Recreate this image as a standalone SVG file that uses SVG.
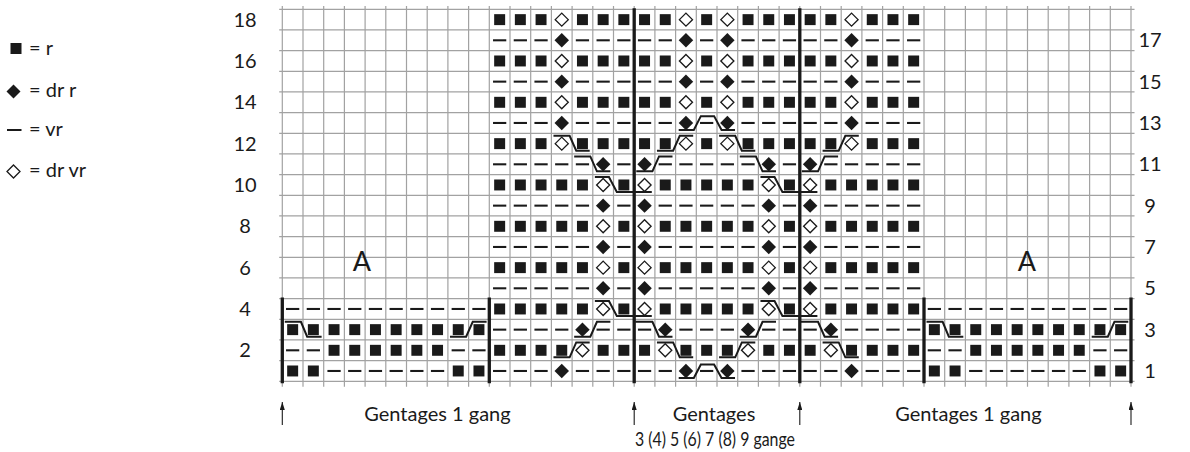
<svg xmlns="http://www.w3.org/2000/svg" width="1190" height="452" viewBox="0 0 1190 452">
<style>
text{font-family:Lato,"Open Sans","Liberation Sans",sans-serif;fill:#1a1a1a;font-size:20px}
.n{text-anchor:middle}
.grid{fill:none;stroke:#a2a2a2;stroke-width:1.2;vector-effect:non-scaling-stroke}
.thick{fill:none;stroke:#1a1a1a;stroke-width:3.3;vector-effect:non-scaling-stroke}
.cab{fill:none;stroke:#1a1a1a;stroke-width:2;vector-effect:non-scaling-stroke}
.arr{fill:none;stroke:#1a1a1a;stroke-width:1.1}
</style>
<defs>
<rect id="s" x=".235" y=".235" width=".53" height=".53" fill="#1a1a1a"/>
<rect id="d" x=".18" y=".45" width=".64" height=".1" fill="#1a1a1a"/>
<polygon id="f" points=".5,.15 .85,.5 .5,.85 .15,.5" fill="#1a1a1a"/>
<polygon id="o" points=".5,.185 .815,.5 .5,.815 .185,.5" fill="#fff" stroke="#1a1a1a" stroke-width=".065"/>
<marker id="ah" viewBox="0 0 8 5" refX="8" refY="2.5" markerWidth="8" markerHeight="5" markerUnits="userSpaceOnUse" orient="auto"><path d="M0 0L8 2.5L0 5z" fill="#1a1a1a"/></marker>
<g id="rA"><use href="#s" x="10"/><use href="#s" x="11"/><use href="#s" x="12"/><use href="#o" x="13"/><use href="#s" x="14"/><use href="#s" x="15"/><use href="#s" x="16"/><use href="#s" x="17"/><use href="#s" x="18"/><use href="#o" x="19"/><use href="#s" x="20"/><use href="#o" x="21"/><use href="#s" x="22"/><use href="#s" x="23"/><use href="#s" x="24"/><use href="#s" x="25"/><use href="#s" x="26"/><use href="#o" x="27"/><use href="#s" x="28"/><use href="#s" x="29"/><use href="#s" x="30"/></g>
<g id="rB"><use href="#d" x="10"/><use href="#d" x="11"/><use href="#d" x="12"/><use href="#f" x="13"/><use href="#d" x="14"/><use href="#d" x="15"/><use href="#d" x="16"/><use href="#d" x="17"/><use href="#d" x="18"/><use href="#f" x="19"/><use href="#d" x="20"/><use href="#f" x="21"/><use href="#d" x="22"/><use href="#d" x="23"/><use href="#d" x="24"/><use href="#d" x="25"/><use href="#d" x="26"/><use href="#f" x="27"/><use href="#d" x="28"/><use href="#d" x="29"/><use href="#d" x="30"/></g>
<g id="rD"><use href="#s" x="10"/><use href="#s" x="11"/><use href="#s" x="12"/><use href="#s" x="13"/><use href="#s" x="14"/><use href="#o" x="15"/><use href="#s" x="16"/><use href="#o" x="17"/><use href="#s" x="18"/><use href="#s" x="19"/><use href="#s" x="20"/><use href="#s" x="21"/><use href="#s" x="22"/><use href="#o" x="23"/><use href="#s" x="24"/><use href="#o" x="25"/><use href="#s" x="26"/><use href="#s" x="27"/><use href="#s" x="28"/><use href="#s" x="29"/><use href="#s" x="30"/></g>
<g id="rE"><use href="#d" x="10"/><use href="#d" x="11"/><use href="#d" x="12"/><use href="#d" x="13"/><use href="#d" x="14"/><use href="#f" x="15"/><use href="#d" x="16"/><use href="#f" x="17"/><use href="#d" x="18"/><use href="#d" x="19"/><use href="#d" x="20"/><use href="#d" x="21"/><use href="#d" x="22"/><use href="#f" x="23"/><use href="#d" x="24"/><use href="#f" x="25"/><use href="#d" x="26"/><use href="#d" x="27"/><use href="#d" x="28"/><use href="#d" x="29"/><use href="#d" x="30"/></g>
<g id="r3"><use href="#d" x="10"/><use href="#d" x="11"/><use href="#d" x="12"/><use href="#d" x="13"/><use href="#f" x="14"/><use href="#d" x="15"/><use href="#d" x="16"/><use href="#d" x="17"/><use href="#f" x="18"/><use href="#d" x="19"/><use href="#d" x="20"/><use href="#d" x="21"/><use href="#f" x="22"/><use href="#d" x="23"/><use href="#d" x="24"/><use href="#d" x="25"/><use href="#f" x="26"/><use href="#d" x="27"/><use href="#d" x="28"/><use href="#d" x="29"/><use href="#d" x="30"/></g>
<g id="r2"><use href="#s" x="10"/><use href="#s" x="11"/><use href="#s" x="12"/><use href="#s" x="13"/><use href="#o" x="14"/><use href="#s" x="15"/><use href="#s" x="16"/><use href="#s" x="17"/><use href="#o" x="18"/><use href="#s" x="19"/><use href="#s" x="20"/><use href="#s" x="21"/><use href="#o" x="22"/><use href="#s" x="23"/><use href="#s" x="24"/><use href="#s" x="25"/><use href="#o" x="26"/><use href="#s" x="27"/><use href="#s" x="28"/><use href="#s" x="29"/><use href="#s" x="30"/></g>
<g id="L">
<use href="#d" x="0" y="14"/><use href="#d" x="1" y="14"/><use href="#d" x="2" y="14"/><use href="#d" x="3" y="14"/><use href="#d" x="4" y="14"/><use href="#d" x="5" y="14"/><use href="#d" x="6" y="14"/><use href="#d" x="7" y="14"/><use href="#d" x="8" y="14"/><use href="#d" x="9" y="14"/>
<use href="#s" x="0" y="15"/><use href="#s" x="1" y="15"/><use href="#s" x="2" y="15"/><use href="#s" x="3" y="15"/><use href="#s" x="4" y="15"/><use href="#s" x="5" y="15"/><use href="#s" x="6" y="15"/><use href="#s" x="7" y="15"/><use href="#s" x="8" y="15"/><use href="#s" x="9" y="15"/>
<use href="#d" x="0" y="16"/><use href="#d" x="1" y="16"/><use href="#s" x="2" y="16"/><use href="#s" x="3" y="16"/><use href="#s" x="4" y="16"/><use href="#s" x="5" y="16"/><use href="#s" x="6" y="16"/><use href="#s" x="7" y="16"/><use href="#d" x="8" y="16"/><use href="#d" x="9" y="16"/>
<use href="#s" x="0" y="17"/><use href="#s" x="1" y="17"/><use href="#d" x="2" y="17"/><use href="#d" x="3" y="17"/><use href="#d" x="4" y="17"/><use href="#d" x="5" y="17"/><use href="#d" x="6" y="17"/><use href="#d" x="7" y="17"/><use href="#s" x="8" y="17"/><use href="#s" x="9" y="17"/>
</g>
</defs>
<rect width="1190" height="452" fill="#fff"/>

<g id="legend">
<rect x="10.5" y="43" width="11" height="11" fill="#1a1a1a"/><text x="29" y="55">= r</text>
<polygon points="13.5,84.5 20.5,91.5 13.5,98.5 6.5,91.5" fill="#1a1a1a"/><text x="29" y="97">= dr r</text>
<rect x="7" y="129" width="14.5" height="2" fill="#1a1a1a"/><text x="29" y="136">= vr</text>
<polygon points="13.5,165 20,171.5 13.5,178 7,171.5" fill="#fff" stroke="#1a1a1a" stroke-width="1.3"/><text x="29" y="177">= dr vr</text>
</g>

<g id="chart" transform="translate(282.3 9.3) scale(20.7 20.667)">
<path class="grid" d="M0-.16V18.26M1-.16V18.26M2-.16V18.26M3-.16V18.26M4-.16V18.26M5-.16V18.26M6-.16V18.26M7-.16V18.26M8-.16V18.26M9-.16V18.26M10-.16V18.26M11-.16V18.26M12-.16V18.26M13-.16V18.26M14-.16V18.26M15-.16V18.26M16-.16V18.26M17-.16V18.26M18-.16V18.26M19-.16V18.26M20-.16V18.26M21-.16V18.26M22-.16V18.26M23-.16V18.26M24-.16V18.26M25-.16V18.26M26-.16V18.26M27-.16V18.26M28-.16V18.26M29-.16V18.26M30-.16V18.26M31-.16V18.26M32-.16V18.26M33-.16V18.26M34-.16V18.26M35-.16V18.26M36-.16V18.26M37-.16V18.26M38-.16V18.26M39-.16V18.26M40-.16V18.26M41-.16V18.26M-.15 0H41.17M-.15 1H41.17M-.15 2H41.17M-.15 3H41.17M-.15 4H41.17M-.15 5H41.17M-.15 6H41.17M-.15 7H41.17M-.15 8H41.17M-.15 9H41.17M-.15 10H41.17M-.15 11H41.17M-.15 12H41.17M-.15 13H41.17M-.15 14H41.17M-.15 15H41.17M-.15 16H41.17M-.15 17H41.17M-.15 18H41.17"/>
<g id="stitches">
<use href="#rA" y="0"/><use href="#rB" y="1"/><use href="#rA" y="2"/><use href="#rB" y="3"/><use href="#rA" y="4"/><use href="#rB" y="5"/><use href="#rA" y="6"/>
<use href="#rE" y="7"/><use href="#rD" y="8"/><use href="#rE" y="9"/><use href="#rD" y="10"/><use href="#rE" y="11"/><use href="#rD" y="12"/><use href="#rE" y="13"/>
<use href="#rD" y="14"/><use href="#r3" y="15"/><use href="#r2" y="16"/><use href="#rB" y="17"/>
<use href="#L"/><use href="#L" x="31"/>
</g>
<path class="thick" d="M0 13.94V18.1M10 13.94V18.1M31 13.94V18.1M41 13.94V18.1M17-.05V18.1M25-.05V18.1"/>
<g id="connectors">
<polyline class="cab" points="19.15,5.84 19.88,5.84 20.22,5.17 20.86,5.17 21.22,5.84 21.87,5.84"/>
<polyline class="cab" points="13.1,6.12 13.88,6.12 14.2,6.84 14.85,6.84"/>
<polyline class="cab" points="18.1,6.84 18.88,6.84 19.2,6.12 19.85,6.12"/>
<polyline class="cab" points="21.1,6.12 21.88,6.12 22.2,6.84 22.85,6.84"/>
<polyline class="cab" points="26.1,6.84 26.88,6.84 27.2,6.12 27.85,6.12"/>
<polyline class="cab" points="14.1,7.12 14.88,7.12 15.2,7.84 15.85,7.84"/>
<polyline class="cab" points="17.1,7.84 17.88,7.84 18.2,7.12 18.85,7.12"/>
<polyline class="cab" points="22.1,7.12 22.88,7.12 23.2,7.84 23.85,7.84"/>
<polyline class="cab" points="25.1,7.84 25.88,7.84 26.2,7.12 26.85,7.12"/>
<polyline class="cab" points="15.1,8.12 15.78,8.12 16.16,8.84 17.85,8.84"/>
<polyline class="cab" points="23.1,8.12 23.78,8.12 24.16,8.84 25.85,8.84"/>
<polyline class="cab" points="15.1,14.12 15.78,14.12 16.16,14.84 17.85,14.84"/>
<polyline class="cab" points="23.1,14.12 23.78,14.12 24.16,14.84 25.85,14.84"/>
<polyline class="cab" points="0.12,15.12 0.9,15.12 1.2,15.84 1.9,15.84"/>
<polyline class="cab" points="8.1,15.84 8.88,15.84 9.2,15.12 9.87,15.12"/>
<polyline class="cab" points="14.1,15.84 14.88,15.84 15.2,15.12 15.85,15.12"/>
<polyline class="cab" points="17.05,15.12 17.88,15.12 18.2,15.84 18.85,15.84"/>
<polyline class="cab" points="22.1,15.84 22.88,15.84 23.2,15.12 23.85,15.12"/>
<polyline class="cab" points="25.05,15.12 25.88,15.12 26.2,15.84 26.85,15.84"/>
<polyline class="cab" points="31.12,15.12 31.9,15.12 32.2,15.84 32.9,15.84"/>
<polyline class="cab" points="39.1,15.84 39.88,15.84 40.2,15.12 40.87,15.12"/>
<polyline class="cab" points="13.1,16.84 13.88,16.84 14.2,16.12 14.85,16.12"/>
<polyline class="cab" points="18.1,16.12 18.88,16.12 19.2,16.84 19.85,16.84"/>
<polyline class="cab" points="21.1,16.84 21.88,16.84 22.2,16.12 22.85,16.12"/>
<polyline class="cab" points="26.1,16.12 26.88,16.12 27.2,16.84 27.85,16.84"/>
<polyline class="cab" points="19.15,17.84 19.88,17.84 20.22,17.19 20.86,17.19 21.22,17.84 21.87,17.84"/>
</g>
</g>

<g id="rownumbers">
<text class="n" x="245" y="26.6">18</text><text class="n" x="245" y="68">16</text><text class="n" x="245" y="109.3">14</text><text class="n" x="245" y="150.6">12</text><text class="n" x="245" y="192">10</text><text class="n" x="245" y="233.3">8</text><text class="n" x="245" y="274.6">6</text><text class="n" x="245" y="316">4</text><text class="n" x="245" y="357.3">2</text>
<text class="n" x="1150" y="47.3">17</text><text class="n" x="1150" y="88.6">15</text><text class="n" x="1150" y="130">13</text><text class="n" x="1150" y="171.3">11</text><text class="n" x="1150" y="212.6">9</text><text class="n" x="1150" y="254">7</text><text class="n" x="1150" y="295.3">5</text><text class="n" x="1150" y="336.6">3</text><text class="n" x="1150" y="378">1</text>
</g>

<g id="labels">
<text class="n" x="362" y="271" style="font-size:27px">A</text>
<text class="n" x="1027" y="271" style="font-size:27px">A</text>
<text class="n" x="437.5" y="421">Gentages 1 gang</text>
<text class="n" x="714" y="421">Gentages</text>
<text class="n" x="715" y="446" style="font-size:18.5px" textLength="160" lengthAdjust="spacingAndGlyphs">3 (4) 5 (6) 7 (8) 9 gange</text>
<text class="n" x="968.5" y="421">Gentages 1 gang</text>
</g>

<g id="arrows">
<line class="arr" x1="282.3" y1="425" x2="282.3" y2="402" marker-end="url(#ah)"/>
<line class="arr" x1="634.2" y1="425" x2="634.2" y2="402" marker-end="url(#ah)"/>
<line class="arr" x1="799.8" y1="425" x2="799.8" y2="402" marker-end="url(#ah)"/>
<line class="arr" x1="1131" y1="425" x2="1131" y2="402" marker-end="url(#ah)"/>
</g>
</svg>
